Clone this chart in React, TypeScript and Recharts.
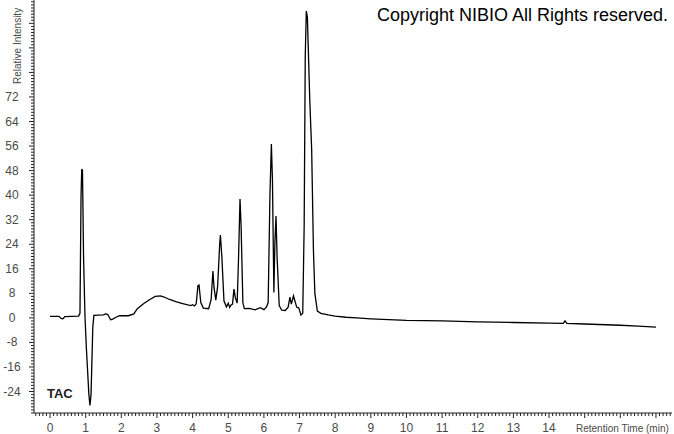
import React from "react"
import { Line, LineChart, XAxis, YAxis } from "recharts"

// retention time (min) and relative intensity
const times = [
  0, 0.25, 0.31, 0.36, 0.42, 0.6, 0.8, 0.84, 0.87, 0.89, 0.91, 0.94, 0.98, 1.02, 1.09, 1.12, 1.15, 1.2, 1.23,
  1.35, 1.5, 1.55, 1.62, 1.7, 1.76, 1.85, 1.95, 2.2, 2.35, 2.45, 2.63, 2.8, 2.95, 3.1, 3.2, 3.35, 3.55, 3.75,
  3.95, 4.0, 4.05, 4.1, 4.15, 4.18, 4.23, 4.3, 4.45, 4.52, 4.57, 4.6, 4.65, 4.7, 4.76, 4.78, 4.82, 4.88, 4.95,
  5.0, 5.04, 5.08, 5.12, 5.16, 5.2, 5.25, 5.29, 5.33, 5.36, 5.41, 5.45, 5.6, 5.75, 5.9, 6.0, 6.07, 6.12, 6.17,
  6.21, 6.24, 6.28, 6.31, 6.34, 6.37, 6.43, 6.5, 6.6, 6.68, 6.73, 6.77, 6.83, 6.87, 6.92, 6.98, 7.04, 7.09,
  7.13, 7.16, 7.19, 7.22, 7.29, 7.34, 7.39, 7.43, 7.5, 7.6, 7.8, 8.0, 8.3, 8.6, 9, 10, 11, 12, 13, 14, 14.4,
  14.45, 14.5, 15, 16, 16.5, 17.0,
]
const intensity = [
  0.5, 0.5, -0.2, -0.3, 0.4, 0.5, 0.6, 1.5, 40, 48.5, 48, 20, 0.5, -10, -25, -28.5, -25, -3, 0.8,
  0.9, 1.0, 1.3, 1.1, -0.6, -0.4, 0.2, 0.7, 0.7, 1.3, 3.0, 4.7, 6.0, 7.0, 7.2, 6.8, 6.0, 5.2, 4.6,
  4.0, 4.3, 3.9, 4.5, 10.5, 10.7, 5, 3.2, 3.0, 6, 15.3, 10, 5.8, 10, 24, 27, 20, 5.5, 3.6,
  4.8, 3.4, 4.2, 4.5, 9.4, 6.5, 4.8, 20, 38.7, 30, 5, 3.0, 3.1, 2.6, 3.3, 2.7, 3.5, 5, 40,
  56.7, 45, 8.3, 25, 33.2, 20, 4, 2.5, 2.4, 3.5, 6.8, 4.5, 7.2, 5.5, 3.5, 3.2, 0.9, 1.5,
  30, 85, 100, 98, 70, 55, 22, 8, 2.2, 1.5, 1.0, 0.6, 0.2, 0.0, -0.3, -0.8, -1.0, -1.3, -1.5, -1.7, -1.8,
  -1.0, -1.8, -2.0, -2.4, -2.7, -3.0,
]

const xLabels = [0, 1, 2, 3, 4, 5, 6, 7, 8, 9, 10, 11, 12, 13, 14]
const yLabels = [-24, -16, -8, 0, 8, 16, 24, 32, 40, 48, 56, 64, 72]

const data = times.map((t, i) => ({ t, v: intensity[i] }))

// minor tick marks: every 0.1 min and every 1 unit
const xTicks: number[] = []
for (let i = -4; i <= 174; i++) xTicks.push(i / 10)
const yTicks: number[] = []
for (let i = -31; i <= 103; i++) yTicks.push(i)

const labelColor = "#4a4a4a"
const font = "'Liberation Sans', Arial, sans-serif"

const XTick = (props: any) => {
  const { x, y, payload } = props
  const v = payload.value
  const major = Math.abs(v - Math.round(v)) < 1e-6
  return (
    <g>
      <line x1={x} x2={x} y1={y} y2={y + (major ? 5 : 3)} stroke="#222" />
      {major && xLabels.includes(Math.round(v)) && (
        <text x={x} y={y + 19} textAnchor="middle" fontSize={12} fill={labelColor} fontFamily={font}>
          {Math.round(v)}
        </text>
      )}
    </g>
  )
}

const YTick = (props: any) => {
  const { x, y, payload } = props
  const v = payload.value
  const major = v % 8 === 0
  return (
    <g>
      <line x1={x - (major ? 5 : 3)} x2={x} y1={y} y2={y} stroke="#222" />
      {yLabels.includes(v) && (
        <text x={12} y={y + 4} textAnchor="middle" fontSize={12} fill={labelColor} fontFamily={font}>
          {v}
        </text>
      )}
    </g>
  )
}

export default function App() {
  return (
    <div style={{ position: "absolute", left: 0, top: 0, width: 674, height: 434, background: "#fff" }}>
      <LineChart width={674} height={434} data={data} margin={{ top: 0, right: 2, bottom: 0, left: 0 }}>
        <XAxis
          dataKey="t"
          type="number"
          domain={[-0.45, 17.45]}
          ticks={xTicks}
          interval={0}
          tick={<XTick />}
          tickLine={false}
          tickSize={0}
          tickMargin={0}
          height={21}
          axisLine={{ stroke: "#222" }}
          allowDataOverflow
        />
        <YAxis
          type="number"
          domain={[-31, 103.6]}
          ticks={yTicks}
          interval={0}
          tick={<YTick />}
          tickLine={false}
          tickSize={0}
          tickMargin={0}
          width={34}
          axisLine={{ stroke: "#222" }}
          allowDataOverflow
        />
        <Line
          type="linear"
          dataKey="v"
          stroke="#000"
          strokeWidth={1.3}
          dot={false}
          isAnimationActive={false}
        />
      </LineChart>
      <svg width={674} height={434} style={{ position: "absolute", left: 0, top: 0, pointerEvents: "none" }}>
        <text x={377} y={21} fontSize={18} fill="#000" fontFamily={font}>
          Copyright NIBIO All Rights reserved.
        </text>
        <text x={47} y={398} fontSize={13} fontWeight="bold" fill="#222" fontFamily={font}>
          TAC
        </text>
        <text x={576} y={432} fontSize={10} fill={labelColor} fontFamily={font}>
          Retention Time (min)
        </text>
        <text transform="translate(21,84) rotate(-90)" fontSize={10} fill={labelColor} fontFamily={font}>
          Relative Intensity
        </text>
      </svg>
    </div>
  )
}
